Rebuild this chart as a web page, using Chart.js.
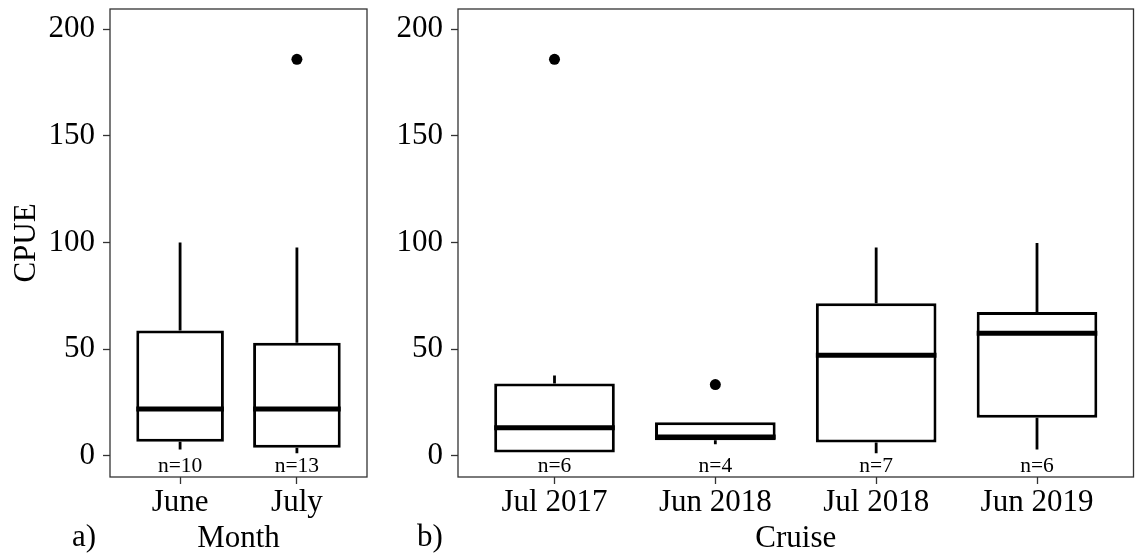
<!DOCTYPE html>
<html>
<head>
<meta charset="utf-8">
<script src="https://cdn.jsdelivr.net/npm/chart.js@4/dist/chart.umd.min.js"></script>
<style>
  body { margin: 0; background: #fff; }
  #wrap { position: relative; width: 1139px; height: 554px; }
  canvas { position: absolute; top: 0; }
</style>
</head>
<body>
<div id="wrap">
  <canvas id="monthChart" width="380" height="554" style="left:0"></canvas>
  <canvas id="cruiseChart" width="759" height="554" style="left:380px"></canvas>
</div>
<script>
// --- Data ---
const yTicks = [0, 50, 100, 150, 200];

const monthCats = ['June', 'July'];
const monthN = [10, 13];
const monthLow = [3, 1.2];
const monthQ1 = [6.6, 3.8];
const monthMed = [22, 22];
const monthQ3 = [58.7, 53];
const monthHigh = [100, 97.6];
const monthOutliers = [[], [185.8]];

const cruiseCats = ['Jul 2017', 'Jun 2018', 'Jul 2018', 'Jun 2019'];
const cruiseN = [6, 4, 7, 6];
const cruiseLow = [1.6, 5.5, 1.2, 3];
const cruiseQ1 = [1.6, 7.3, 6.3, 17.9];
const cruiseMed = [13.2, 8.8, 47.1, 57.5];
const cruiseQ3 = [33.9, 15.7, 71.5, 67.4];
const cruiseHigh = [37.7, 15.7, 97.6, 99.8];
const cruiseOutliers = [[185.8], [33.4], [], []];

// --- Look ---
const SERIF = "'Liberation Serif', 'Times New Roman', serif";
const BIG = 31;
const INK = '#000';
const FRAME = '#333';
const BOX_HALF = 0.375;   // ggplot default width 0.75
const N_LABEL_Y = -4.7;

// panel border + n labels + panel letter
const boxExtras = {
    id: 'boxExtras',
    beforeDatasetsDraw(chart) {
        const { ctx, chartArea: a } = chart;
        ctx.save();
        ctx.strokeStyle = FRAME;
        ctx.lineWidth = 1.3;
        ctx.strokeRect(a.left, a.top, a.right - a.left, a.bottom - a.top);
        ctx.restore();
    },
    afterDatasetsDraw(chart, args, opts) {
        const { ctx, scales: { x, y } } = chart;
        ctx.save();
        ctx.fillStyle = INK;
        ctx.font = "21.5px " + SERIF;
        ctx.textAlign = 'center';
        ctx.textBaseline = 'middle';
        opts.counts.forEach((n, i) => {
            ctx.fillText('n=' + n, x.getPixelForValue(i + 1), y.getPixelForValue(N_LABEL_Y));
        });
        ctx.font = BIG + "px " + SERIF;
        ctx.textAlign = 'left';
        ctx.fillText(opts.letter, opts.letterX, opts.letterY);
        ctx.restore();
    }
};

function boxDatasets(low, q1, med, q3, high, outliers) {
    const whiskers = [], medians = [], boxes = [], dots = [];
    low.forEach((lo, i) => {
        const c = i + 1;
        whiskers.push({ x: c, y: q3[i] }, { x: c, y: high[i] }, { x: c, y: null },
                      { x: c, y: lo }, { x: c, y: q1[i] }, { x: c, y: null });
        medians.push({ x: c - BOX_HALF, y: med[i] }, { x: c + BOX_HALF, y: med[i] }, { x: c, y: null });
        boxes.push({ x: c, y: [q1[i], q3[i]] });
        outliers[i].forEach(v => dots.push({ x: c, y: v }));
    });
    return [
        {
            type: 'line', data: whiskers, order: 4,
            borderColor: INK, borderWidth: 2.8, pointRadius: 0, spanGaps: false,
            fill: false, tension: 0, borderCapStyle: 'butt'
        },
        {
            type: 'bar', data: boxes, order: 3,
            backgroundColor: '#fff', borderColor: INK, borderWidth: 3,
            borderSkipped: false, categoryPercentage: 2 * BOX_HALF, barPercentage: 1
        },
        {
            type: 'line', data: medians, order: 2,
            borderColor: INK, borderWidth: 5, pointRadius: 0, spanGaps: false,
            fill: false, tension: 0, borderCapStyle: 'butt'
        },
        {
            type: 'scatter', data: dots, order: 1,
            backgroundColor: INK, borderColor: INK, pointRadius: 5.5, borderWidth: 0
        }
    ];
}

function makeChart(id, cats, counts, sets, cfg) {
    return new Chart(document.getElementById(id), {
        data: { datasets: sets },
        options: {
            responsive: false,
            devicePixelRatio: 1,
            animation: false,
            layout: { padding: { top: 9, right: cfg.padRight, left: 0, bottom: 0 } },
            plugins: {
                legend: { display: false },
                tooltip: { enabled: false },
                boxExtras: { counts: counts, letter: cfg.letter, letterX: cfg.letterX, letterY: 538 }
            },
            scales: {
                x: {
                    type: 'linear',
                    offset: false,
                    min: 0.4,
                    max: cats.length + 0.6,
                    afterFit: s => { s.height = 77; s.paddingLeft = 0; s.paddingRight = 0; },
                    afterBuildTicks: s => { s.ticks = cats.map((c, i) => ({ value: i + 1 })); },
                    ticks: {
                        color: INK,
                        font: { family: SERIF, size: BIG },
                        padding: 0,
                        maxRotation: 0,
                        autoSkip: false,
                        callback: v => cats[v - 1]
                    },
                    grid: { offset: false, drawOnChartArea: false, tickLength: 7, tickColor: FRAME, tickWidth: 1.3 },
                    border: { display: false },
                    title: {
                        display: true, text: cfg.xTitle, color: INK,
                        font: { family: SERIF, size: BIG }, padding: -3
                    }
                },
                y: {
                    min: -9.9,
                    max: 209.4,
                    afterFit: s => { s.width = cfg.yWidth; s.paddingTop = 0; s.paddingBottom = 0; },
                    afterBuildTicks: s => { s.ticks = yTicks.map(v => ({ value: v })); },
                    ticks: { color: INK, font: { family: SERIF, size: BIG }, padding: 8 },
                    grid: { drawOnChartArea: false, tickLength: 7, tickColor: FRAME, tickWidth: 1.3 },
                    border: { display: false },
                    title: {
                        display: !!cfg.yTitle, text: cfg.yTitle || '', color: INK,
                        font: { family: SERIF, size: BIG }, padding: { top: 8, bottom: 0 }
                    }
                }
            }
        },
        plugins: [boxExtras]
    });
}

makeChart('monthChart', monthCats, monthN,
    boxDatasets(monthLow, monthQ1, monthMed, monthQ3, monthHigh, monthOutliers),
    { padRight: 13, yWidth: 110, xTitle: 'Month', yTitle: 'CPUE', letter: 'a)', letterX: 72 });

makeChart('cruiseChart', cruiseCats, cruiseN,
    boxDatasets(cruiseLow, cruiseQ1, cruiseMed, cruiseQ3, cruiseHigh, cruiseOutliers),
    { padRight: 5, yWidth: 78, xTitle: 'Cruise', letter: 'b)', letterX: 37 });
</script>
</body>
</html>
